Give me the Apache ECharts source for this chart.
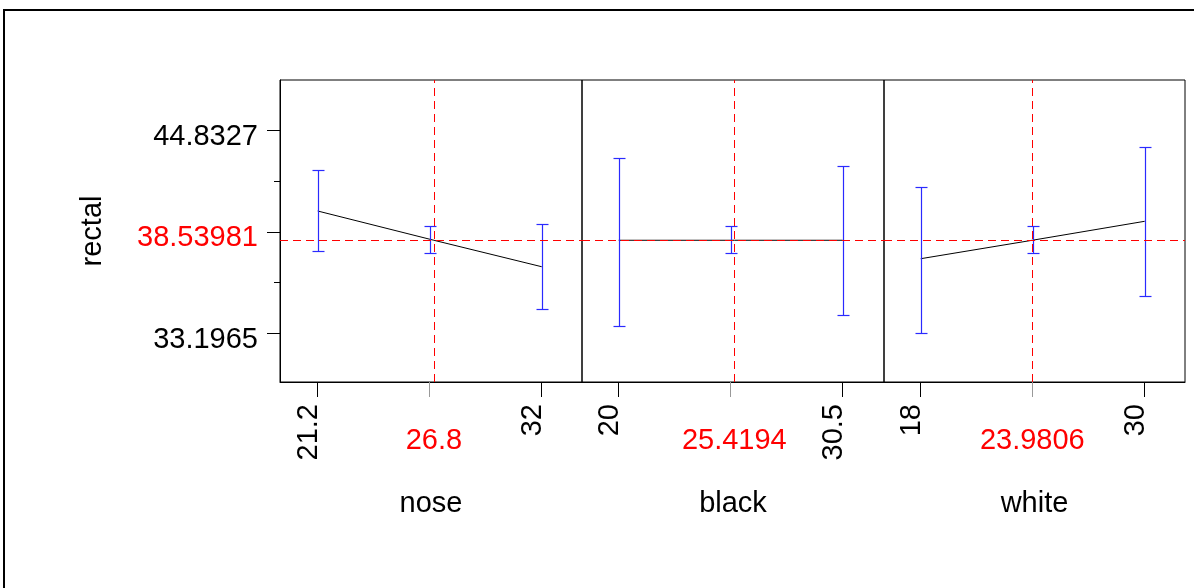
<!DOCTYPE html>
<html>
<head>
<meta charset="utf-8">
<script src="https://cdn.jsdelivr.net/npm/echarts@6/dist/echarts.min.js"></script>
<style>html,body{margin:0;padding:0;background:#fff;}#c{width:1194px;height:588px;}</style>
</head>
<body>
<div id="c"></div>
<script>
// ---- data ----
const factors = ['nose', 'black', 'white'];
const responseName = 'rectal';
const yMajorTicks = [33.1965, 39.0146, 44.8327];
const yMajorLabels = ['33.1965', '38.53981', '44.8327'];
const yMinorTicks = [36.1056, 41.9237];
const currentY = 38.53981;
const currentX = [26.8, 25.4194, 23.9806];
const currentXLabels = ['26.8', '25.4194', '23.9806'];
const xEndTicks = [[21.2, 32], [20, 30.5], [18, 30]];
const xEndLabels = [['21.2', '32'], ['20', '30.5'], ['18', '30']];
const xMidTicks = [26.6, 25.25, 24];
const profileNose = [[21.2, 40.22], [26.8, 38.54], [32, 37.02]];
const profileBlack = [[20, 38.54], [25.4194, 38.54], [30.5, 38.54]];
const profileWhite = [[18, 37.48], [23.9806, 38.54], [30, 39.63]];
const ciNose = [[21.2, 37.94, 42.575], [26.6, 37.79, 39.34], [32, 34.575, 39.457]];
const ciBlack = [[20, 33.63, 43.28], [25.25, 37.79, 39.34], [30.5, 34.26, 42.82]];
const ciWhite = [[18, 33.196, 41.616], [24, 37.79, 39.34], [30, 35.32, 43.91]];

const profiles = [profileNose, profileBlack, profileWhite];
const cis = [ciNose, ciBlack, ciWhite];

// ---- layout ----
const FONT = "'Liberation Sans', Arial, Helvetica, sans-serif";
const FS = 29;
const gridLefts = [280, 582, 884];
const gridWidths = [302, 302, 301];
const xRanges = [[19.382, 33.943], [18.28, 32.436], [16.034, 32.159]];
const yRange = [30.399, 47.745];
const ERR_COLOR = '#2a2aff';

function findIdx(arr, v) { return arr.findIndex(t => Math.abs(t - v) < 1e-6); }

const grids = [], xAxes = [], yAxes = [], series = [];
for (let i = 0; i < 3; i++) {
  grids.push({left: gridLefts[i], top: 80, width: gridWidths[i], height: 302,
    show: true, borderColor: '#000', borderWidth: 1, containLabel: false});
  // main x axis
  xAxes.push({
    type: 'value', gridIndex: i, position: 'bottom', min: xRanges[i][0], max: xRanges[i][1],
    axisLine: {show: true, onZero: false, lineStyle: {color: '#000', width: 1}},
    splitLine: {show: false},
    axisTick: {show: true, length: 15, customValues: xEndTicks[i], lineStyle: {color: '#000'}},
    axisLabel: {show: true, customValues: xEndTicks[i], rotate: 90, margin: 22,
      fontFamily: FONT, fontSize: FS, color: '#000',
      rich: {t: {fontFamily: FONT, fontSize: FS, color: '#000', padding: [0, 0, 18, 0]}},
      formatter: (v) => { const k = findIdx(xEndTicks[i], v); return k >= 0 ? '{t|' + xEndLabels[i][k] + '}' : ''; }}
  });
  // secondary x axis: middle tick, current value, name
  xAxes.push({
    type: 'value', gridIndex: i, position: 'bottom', min: xRanges[i][0], max: xRanges[i][1],
    axisLine: {show: false, onZero: false},
    splitLine: {show: false},
    axisTick: {show: true, length: 15, customValues: [xMidTicks[i]], lineStyle: {color: '#999'}},
    axisLabel: {show: true, customValues: [currentX[i]], margin: 44,
      fontFamily: FONT, fontSize: FS, color: '#ff0000',
      formatter: () => currentXLabels[i]},
    name: factors[i], nameLocation: 'middle', nameGap: 107,
    nameTextStyle: {fontFamily: FONT, fontSize: FS, color: '#000'}
  });
  if (i === 0) {
    yAxes.push({
      type: 'value', gridIndex: 0, position: 'left', min: yRange[0], max: yRange[1],
      axisLine: {show: true, onZero: false, lineStyle: {color: '#000'}},
      splitLine: {show: false},
      axisTick: {show: true, length: 13, customValues: yMajorTicks, lineStyle: {color: '#000'}},
      axisLabel: {show: true, customValues: yMajorTicks, margin: 22,
        fontFamily: FONT, fontSize: FS, color: '#000',
        rich: {
          k: {fontFamily: FONT, fontSize: FS, color: '#000', padding: [13, 0, 0, 0]},
          r: {fontFamily: FONT, fontSize: FS, color: '#ff0000', padding: [13, 0, 0, 0]}
        },
        formatter: (v) => { const k = findIdx(yMajorTicks, v); if (k < 0) return ''; return (k === 1 ? '{r|' : '{k|') + yMajorLabels[k] + '}'; }},
      name: responseName, nameLocation: 'middle', nameGap: 173,
      nameTextStyle: {fontFamily: FONT, fontSize: FS, color: '#000'}
    });
    yAxes.push({
      type: 'value', gridIndex: 0, position: 'left', min: yRange[0], max: yRange[1],
      axisLine: {show: false, onZero: false},
      splitLine: {show: false},
      axisTick: {show: true, length: 6, customValues: yMinorTicks, lineStyle: {color: '#000'}},
      axisLabel: {show: false}
    });
  } else {
    yAxes.push({
      type: 'value', gridIndex: i, position: 'left', min: yRange[0], max: yRange[1],
      axisLine: {show: false}, axisTick: {show: false}, axisLabel: {show: false}, splitLine: {show: false}
    });
  }
}
const yIdx = [0, 2, 3];

for (let i = 0; i < 3; i++) {
  series.push({
    type: 'line', xAxisIndex: i * 2, yAxisIndex: yIdx[i], data: profiles[i],
    symbol: 'none', lineStyle: {color: '#000', width: 1}, silent: true, z: 3,
    markLine: {
      silent: true, symbol: ['none', 'none'], animation: false,
      label: {show: false},
      lineStyle: {color: '#ff0000', type: [8, 5], width: 1},
      data: [{yAxis: currentY}, {xAxis: currentX[i]}]
    }
  });
  series.push({
    type: 'custom', xAxisIndex: i * 2, yAxisIndex: yIdx[i], data: cis[i], silent: true, z: 4,
    itemStyle: {color: ERR_COLOR},
    renderItem: function (params, api) {
      const x = api.value(0), lo = api.value(1), hi = api.value(2);
      const pLo = api.coord([x, lo]), pHi = api.coord([x, hi]);
      const cx = Math.round(pLo[0]) + 0.5;
      const yl = Math.round(pLo[1]) + 0.5, yh = Math.round(pHi[1]) + 0.5;
      const mk = () => ({stroke: ERR_COLOR, lineWidth: 1.2, fill: null});
      return {type: 'group', children: [
        {type: 'line', shape: {x1: cx, y1: yh, x2: cx, y2: yl}, style: mk()},
        {type: 'line', shape: {x1: cx - 6, y1: yh, x2: cx + 6, y2: yh}, style: mk()},
        {type: 'line', shape: {x1: cx - 6, y1: yl, x2: cx + 6, y2: yl}, style: mk()}
      ]};
    }
  });
}

const chart = echarts.init(document.getElementById('c'), null, {renderer: 'canvas'});
chart.setOption({
  animation: false,
  backgroundColor: '#fff',
  grid: grids,
  xAxis: xAxes,
  yAxis: yAxes,
  series: series,
  graphic: [{type: 'rect', shape: {x: 4, y: 10, width: 1220, height: 620},
    style: {fill: 'none', stroke: '#000', lineWidth: 2}, silent: true}]
});
</script>
</body>
</html>
